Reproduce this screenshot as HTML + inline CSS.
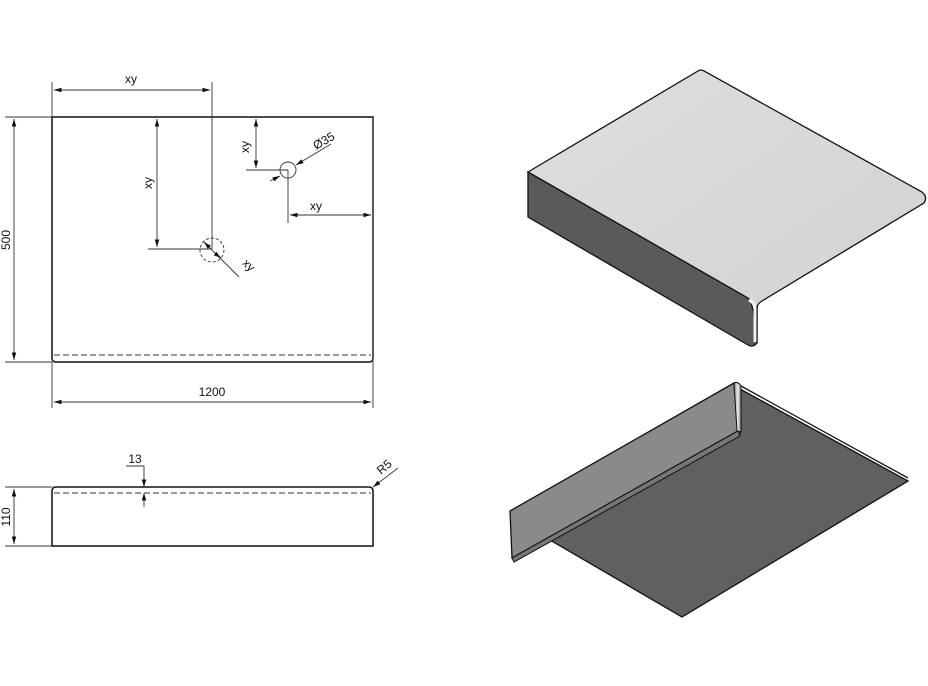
<!DOCTYPE html>
<html><head><style>
html,body{margin:0;padding:0;background:#fff;}
svg{display:block;}
text{font-family:"Liberation Sans","DejaVu Sans",sans-serif;font-size:12px;fill:#111;}
</style></head><body>
<svg width="928" height="686" viewBox="0 0 928 686" xmlns="http://www.w3.org/2000/svg">
<defs>
<marker id="a" viewBox="0 0 10 6" refX="10" refY="3" markerWidth="9" markerHeight="5" orient="auto-start-reverse"><path d="M0,0 L10,3 L0,6z" fill="#111"/></marker>
<linearGradient id="top" x1="0" y1="0" x2="1" y2="1"><stop offset="0" stop-color="#dedede"/><stop offset="1" stop-color="#d2d2d2"/></linearGradient>
<linearGradient id="bend" x1="0" y1="0" x2="1" y2="0"><stop offset="0" stop-color="#777"/><stop offset="0.5" stop-color="#eee"/><stop offset="1" stop-color="#888"/></linearGradient>
</defs>
<g stroke="#333" stroke-width="0.9" fill="none">
<path d="M52,117 H373 V358 Q373,362 369,362 H56 Q52,362 52,358 Z" stroke="#111" stroke-width="1.5"/>
<line x1="54" y1="355" x2="371" y2="355" stroke-dasharray="6,3"/>
<line x1="52" y1="82" x2="52" y2="117"/><line x1="212" y1="82" x2="212" y2="249"/>
<line x1="54" y1="90" x2="210" y2="90" marker-start="url(#a)" marker-end="url(#a)"/>
<line x1="5" y1="117" x2="52" y2="117"/><line x1="5" y1="362" x2="52" y2="362"/>
<line x1="14" y1="119" x2="14" y2="360" marker-start="url(#a)" marker-end="url(#a)"/>
<line x1="52" y1="362" x2="52" y2="408"/><line x1="373" y1="117" x2="373" y2="408"/>
<line x1="54" y1="402" x2="371" y2="402" marker-start="url(#a)" marker-end="url(#a)"/>
<line x1="157" y1="119" x2="157" y2="247" marker-start="url(#a)" marker-end="url(#a)"/>
<line x1="148" y1="249" x2="212" y2="249"/>
<circle cx="212" cy="250" r="12" stroke-dasharray="3,2"/>
<line x1="204" y1="242" x2="239" y2="277"/>
<line x1="207" y1="245" x2="204" y2="242" marker-end="url(#a)"/>
<line x1="217" y1="255" x2="221" y2="258" marker-end="url(#a)"/>
<line x1="256" y1="119" x2="256" y2="168" marker-start="url(#a)" marker-end="url(#a)"/>
<line x1="246" y1="170" x2="288" y2="170"/>
<circle cx="288" cy="170" r="8"/>
<line x1="288" y1="170" x2="288" y2="223"/>
<line x1="290" y1="215" x2="371" y2="215" marker-start="url(#a)" marker-end="url(#a)"/>
<line x1="270" y1="181" x2="280" y2="176" marker-end="url(#a)"/>
<line x1="331" y1="144" x2="296" y2="165" marker-end="url(#a)"/>
<path d="M52,546 V491 Q52,487 56,487 H369 Q373,487 373,491 V546 Z" stroke="#111" stroke-width="1.5"/>
<line x1="54" y1="493" x2="371" y2="493" stroke-dasharray="6,3"/>
<line x1="5" y1="487" x2="52" y2="487"/><line x1="5" y1="546" x2="52" y2="546"/>
<line x1="14" y1="489" x2="14" y2="544" marker-start="url(#a)" marker-end="url(#a)"/>
<polyline points="126,466 144,466 144,487"/>
<line x1="144" y1="478" x2="144" y2="487" marker-end="url(#a)"/>
<line x1="144" y1="507" x2="144" y2="493" marker-end="url(#a)"/>
<line x1="398" y1="468" x2="373" y2="487" marker-end="url(#a)"/>
</g>
<text x="131" y="83" text-anchor="middle">xy</text>
<text transform="translate(10,240) rotate(-90)" text-anchor="middle">500</text>
<text x="212" y="396" text-anchor="middle">1200</text>
<text transform="translate(152,183) rotate(-90)" text-anchor="middle">xy</text>
<text transform="translate(246,268) rotate(45)" text-anchor="middle">xy</text>
<text transform="translate(249,147) rotate(-90)" text-anchor="middle">xy</text>
<text x="316" y="210" text-anchor="middle">xy</text>
<text transform="translate(316,150) rotate(-30)" font-size="13">Ø35</text>
<text x="135" y="463" text-anchor="middle">13</text>
<text transform="translate(10,517) rotate(-90)" text-anchor="middle">110</text>
<text transform="translate(381,475) rotate(-40)">R5</text>
<path d="M528,172 L528,217 L748,345 Q753,348 757,343 L757,304 L752,300 Z" fill="#5a5a5a" stroke="#111" stroke-width="1.3"/>
<path d="M528,172 L698,71 Q701,69 704,71 L922,192 Q928,197 924,203 L762,301 Q757,304 757,308 L757,343 Q754,302 748,298 Z" fill="url(#top)" stroke="#111" stroke-width="1.3"/>
<path d="M749,300 Q755,303 755,309 L755,342" stroke="#f2f2f2" stroke-width="3" fill="none"/>
<path d="M740,389 L908,481 L682,617 L550,540 L740,434 Z" fill="#606060" stroke="#111" stroke-width="1.3"/>
<path d="M510,511 L734,383 L738,431 L512,558 Z" fill="#8a8a8a" stroke="#111" stroke-width="1.3"/>
<path d="M512,558 L738,431 L740,436 L514,562 Z" fill="#777" stroke="#111" stroke-width="1"/>
<path d="M734,383 Q738,381 741,386 L741,432 L737,431 Z" fill="url(#bend)" stroke="#111" stroke-width="1"/>
<path d="M741,386 L908,478" stroke="#111" stroke-width="1.3" fill="none"/>
</svg>
</body></html>
